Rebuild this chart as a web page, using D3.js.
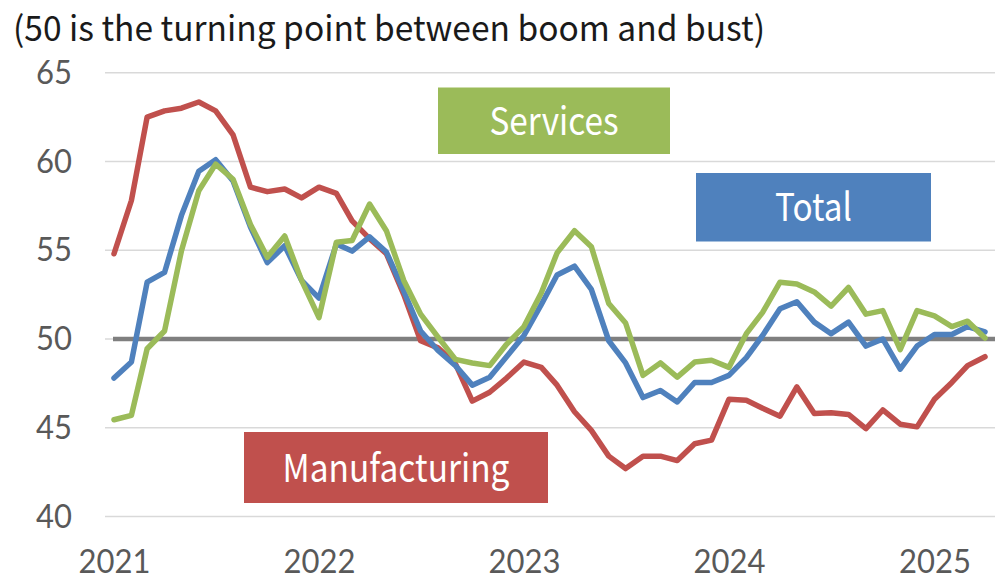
<!DOCTYPE html>
<html>
<head>
<meta charset="utf-8">
<script src="https://cdn.jsdelivr.net/npm/d3@7"></script>
<style>
  html, body { margin: 0; padding: 0; background: #fff; }
  svg { display: block; font-family: "Noto Sans CJK JP", "Noto Sans", sans-serif; }
</style>
</head>
<body>
<svg id="chart" width="1000" height="585"></svg>
<script>
// ---- Data (monthly, Jan 2021 – Apr 2025) ----
const startYear = 2021;
const startMonth = 0; // January
const manufacturing = [54.8, 57.8, 62.5, 62.85, 63.0, 63.35, 62.85, 61.5, 58.55, 58.3, 58.45, 57.95,
  58.55, 58.2, 56.65, 55.65, 54.8, 52.5, 49.9, 49.5, 48.6, 46.5, 47.0, 47.8,
  48.7, 48.4, 47.4, 45.9, 44.85, 43.4, 42.7, 43.4, 43.4, 43.15, 44.1, 44.3,
  46.6, 46.55, 46.1, 45.65, 47.3, 45.8, 45.85, 45.75, 44.95, 46.0, 45.2, 45.05,
  46.6, 47.55, 48.5, 49.0];
const total = [47.8, 48.7, 53.2, 53.75, 56.95, 59.45, 60.1, 58.9, 56.3, 54.3, 55.25, 53.3,
  52.3, 55.35, 54.95, 55.75, 54.9, 52.7, 50.45, 49.35, 48.5, 47.4, 47.85, 49.0,
  50.2, 51.95, 53.6, 54.1, 52.8, 49.9, 48.65, 46.7, 47.1, 46.45, 47.55, 47.55,
  47.95, 48.95, 50.2, 51.7, 52.1, 50.95, 50.3, 50.95, 49.6, 50.0, 48.3, 49.6,
  50.25, 50.25, 50.7, 50.4];
const services = [45.45, 45.7, 49.45, 50.45, 54.95, 58.35, 59.85, 59.0, 56.45, 54.6, 55.8, 53.3,
  51.2, 55.45, 55.55, 57.6, 56.1, 53.3, 51.4, 50.1, 48.85, 48.65, 48.5, 49.7,
  50.7, 52.6, 54.85, 56.1, 55.2, 52.0, 50.9, 47.95, 48.65, 47.85, 48.7, 48.8,
  48.4, 50.3, 51.5, 53.2, 53.1, 52.65, 51.85, 52.9, 51.4, 51.6, 49.4, 51.6,
  51.3, 50.7, 51.0, 50.05];
const yTicks = [40, 45, 50, 55, 60, 65];
const xTickYears = [2021, 2022, 2023, 2024, 2025];
const seriesNames = ["Services", "Total", "Manufacturing"];
const titleText = "(50 is the turning point between boom and bust)";
const threshold = 50;

// ---- Layout ----
const svg = d3.select("#chart");
const months = manufacturing.map((_, i) => new Date(startYear, startMonth + i, 1));

const x = d3.scaleTime()
  .domain([months[0], months[months.length - 1]])
  .range([114, 985]);
const y = d3.scaleLinear().domain([40, 65]).range([516.5, 72.7]);

const colors = { Services: "#9BBB59", Total: "#4F81BD", Manufacturing: "#C0504D" };
const axisFont = "Lato, 'Noto Sans', sans-serif";

// Title
svg.append("text")
  .attr("x", 13).attr("y", 40.5)
  .attr("font-size", 34.5)
  .attr("fill", "#1a1a1a")
  .attr("textLength", 752)
  .attr("lengthAdjust", "spacingAndGlyphs")
  .text(titleText);

// Gridlines
const grid = svg.append("g");
grid.selectAll("line").data(yTicks).join("line")
  .attr("x1", 105).attr("x2", 995)
  .attr("y1", d => y(d)).attr("y2", d => y(d))
  .attr("stroke", "#d9d9d9").attr("stroke-width", 1.6);

// Y axis labels
const yAxis = d3.axisLeft(y).tickValues(yTicks).tickSize(0).tickPadding(0);
const gy = svg.append("g").attr("transform", "translate(72,0)").call(yAxis);
gy.select(".domain").remove();
gy.selectAll("text")
  .attr("font-size", 33).attr("fill", "#595959")
  .attr("font-family", axisFont)
  .attr("transform", "scale(0.94,1)");

// X axis labels
const xAxis = d3.axisBottom(x)
  .tickValues(xTickYears.map(yr => new Date(yr, 0, 1)))
  .tickFormat(d3.timeFormat("%Y"))
  .tickSize(0).tickPadding(0);
const gx = svg.append("g").attr("transform", "translate(0,550)").call(xAxis);
gx.select(".domain").remove();
gx.selectAll("text")
  .attr("font-size", 33).attr("fill", "#595959")
  .attr("font-family", axisFont)
  .attr("transform", "scale(0.94,1)");

// 50 threshold line
svg.append("line")
  .attr("x1", 113).attr("x2", 995)
  .attr("y1", y(threshold)).attr("y2", y(threshold))
  .attr("stroke", "#7f7f7f").attr("stroke-width", 4.5);

// Lines
const line = d3.line()
  .x((d, i) => x(months[i]))
  .y(d => y(d));

const seriesData = [
  { name: "Manufacturing", values: manufacturing },
  { name: "Total", values: total },
  { name: "Services", values: services }
];
svg.append("g").selectAll("path").data(seriesData).join("path")
  .attr("d", d => line(d.values))
  .attr("fill", "none")
  .attr("stroke", d => colors[d.name])
  .attr("stroke-width", 5.5)
  .attr("stroke-linejoin", "round")
  .attr("stroke-linecap", "round");

// Label boxes
const boxes = [
  { name: seriesNames[0], x0: 438, y0: 87.5, w: 232, h: 66.5, tw: 129 },
  { name: seriesNames[1], x0: 696, y0: 173, w: 235, h: 68.5, tw: 77 },
  { name: seriesNames[2], x0: 244, y0: 432, w: 304, h: 71, tw: 227 }
];
const bg = svg.append("g").selectAll("g").data(boxes).join("g");
bg.append("rect")
  .attr("x", d => d.x0).attr("y", d => d.y0)
  .attr("width", d => d.w).attr("height", d => d.h)
  .attr("fill", d => colors[d.name]);
bg.append("text")
  .attr("x", d => d.x0 + d.w / 2 - d.tw / 2).attr("y", d => d.y0 + d.h / 2 + 14)
  .attr("font-size", 38).attr("fill", "#fff")
  .attr("textLength", d => d.tw)
  .attr("lengthAdjust", "spacingAndGlyphs")
  .text(d => d.name);
</script>
</body>
</html>
